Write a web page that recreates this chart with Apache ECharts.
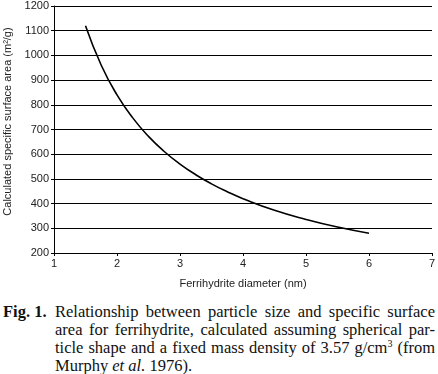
<!DOCTYPE html>
<html>
<head>
<meta charset="utf-8">
<script src="https://cdn.jsdelivr.net/npm/echarts@6/dist/echarts.min.js"></script>
<style>
  body { margin: 0; background: #fff; }
  #chart { width: 438px; height: 292px; }
  #caption {
    display: flex;
    width: 432px;
    margin-left: 3px;
    margin-top: 11px;
    font-family: "Liberation Serif", "Times New Roman", serif;
    font-size: 16.5px;
    line-height: 18px;
    color: #111;
  }
  #caption .lab { font-weight: bold; width: 52px; flex: none; }
  #caption .txt { flex: 1; }
  #caption .txt div { text-align: justify; text-align-last: justify; white-space: nowrap; }
  #caption .txt div.last { text-align-last: left; }
</style>
</head>
<body>
<div id="chart"></div>
<div id="caption">
  <div class="lab">Fig. 1.</div>
  <div class="txt">
    <div>Relationship between particle size and specific surface</div>
    <div>area for ferrihydrite, calculated assuming spherical par-</div>
    <div>ticle shape and a fixed mass density of 3.57 g/cm<sup style="font-size:10px;line-height:0">3</sup> (from</div>
    <div class="last">Murphy <i>et al.</i> 1976).</div>
  </div>
</div>
<script>
const diameters = [1.5, 1.75, 2, 2.25, 2.5, 2.75, 3, 3.25, 3.5, 3.75, 4, 4.5, 5, 5.5, 6];
const surfaceArea = [1120, 960, 840, 747, 672, 611, 560, 517, 480, 448, 420, 373, 336, 305, 280];
const xTicks = [1, 2, 3, 4, 5, 6, 7];

const myChart = echarts.init(document.getElementById('chart'));
myChart.setOption({
  animation: false,
  grid: {
    left: 54,
    right: 6,
    top: 6,
    bottom: 39,
    containLabel: false,
    outerBoundsMode: 'none',
  },
  xAxis: {
    type: 'value',
    min: xTicks[0],
    max: xTicks[xTicks.length - 1],
    interval: 1,
    name: 'Ferrihydrite diameter (nm)',
    nameLocation: 'middle',
    nameGap: 25,
    nameTextStyle: { fontFamily: 'Liberation Sans', fontSize: 11, color: '#222' },
    axisLine: { lineStyle: { color: '#000', width: 1 } },
    axisTick: { show: true, length: 3, lineStyle: { color: '#000' } },
    axisLabel: { fontFamily: 'Liberation Sans', fontSize: 11, color: '#222', margin: 5 },
    splitLine: { show: false },
  },
  yAxis: {
    type: 'value',
    min: 200,
    max: 1200,
    interval: 100,
    name: 'Calculated specific surface area (m²/g)',
    nameLocation: 'middle',
    nameGap: 37,
    nameTextStyle: { fontFamily: 'Liberation Sans', fontSize: 11, color: '#222', padding: [0, 0, 0, 16] },
    axisLine: { show: true, lineStyle: { color: '#000', width: 1 } },
    axisTick: { show: true, length: 3, lineStyle: { color: '#000' } },
    axisLabel: {
      fontFamily: 'Liberation Sans',
      fontSize: 11,
      color: '#222',
      margin: 5,
      formatter: value => String(value),
    },
    splitLine: { show: true, lineStyle: { color: '#000', width: 1 } },
  },
  series: [
    {
      type: 'line',
      data: diameters.map((d, i) => [d, surfaceArea[i]]),
      smooth: true,
      showSymbol: false,
      lineStyle: { color: '#000', width: 1.6 },
    },
  ],
});
</script>
</body>
</html>
